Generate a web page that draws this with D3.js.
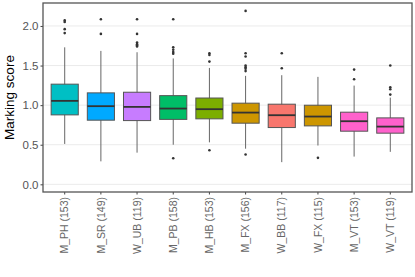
<!DOCTYPE html>
<html>
<head>
<meta charset="utf-8">
<script src="https://cdn.jsdelivr.net/npm/d3@7"></script>
<style>
  body { margin: 0; background: #fff; }
  svg { display: block; font-family: "Liberation Sans", Arial, sans-serif; }
</style>
</head>
<body>
<div id="chart"></div>
<script>
// box plot summaries
const groups = ["M_PH (153)", "M_SR (149)", "W_UB (119)", "M_PB (158)", "M_HB (153)",
                "M_FX (156)", "W_BB (117)", "W_FX (115)", "M_VT (153)", "W_VT (119)"];
const fills = ["#00BFC4", "#00A9FF", "#C77CFF", "#00BE67", "#7CAE00",
               "#CD9600", "#F8766D", "#CD9600", "#FF61CC", "#FF61CC"];
const lowWhisker = [0.51, 0.29, 0.40, 0.50, 0.53, 0.45, 0.28, 0.49, 0.35, 0.41];
const q1 = [0.877, 0.81, 0.805, 0.82, 0.827, 0.772, 0.717, 0.738, 0.671, 0.646];
const medians = [1.054, 0.987, 0.978, 0.957, 0.949, 0.906, 0.873, 0.856, 0.797, 0.729];
const q3 = [1.265, 1.155, 1.163, 1.12, 1.09, 1.025, 1.012, 0.999, 0.911, 0.839];
const highWhisker = [1.73, 1.685, 1.668, 1.59, 1.47, 1.37, 1.378, 1.357, 1.247, 1.095];
const outliers = [
  [2.07, 2.05, 1.96, 1.91],
  [2.085, 1.90],
  [2.085, 1.90, 1.79, 1.77, 1.755, 1.74],
  [2.085, 1.73, 1.70, 1.67, 1.65, 0.33],
  [1.655, 1.634, 1.55, 0.43],
  [2.19, 1.655, 1.615, 1.50, 1.48, 1.46, 1.43, 0.376],
  [1.655, 1.466],
  [0.334],
  [1.449, 1.327],
  [1.50, 1.226, 1.20, 1.133]
];
const yTicks = [0.0, 0.5, 1.0, 1.5, 2.0];

const margin = {top: 3, right: 3, bottom: 85, left: 43},
  width = 415 - margin.left - margin.right,
  height = 277 - margin.top - margin.bottom;

const svg = d3.select("#chart")
  .append("svg")
  .attr("width", width + margin.left + margin.right)
  .attr("height", height + margin.top + margin.bottom)
  .append("g")
  .attr("transform", "translate(" + margin.left + "," + margin.top + ")");

const x = d3.scaleBand()
  .domain(groups)
  .range([0, width])
  .paddingOuter(0.1)
  .paddingInner(0);

const y = d3.scaleLinear()
  .domain([-0.097, 2.29])
  .range([height, 0]);

// grid lines
svg.append("g")
  .selectAll("line")
  .data(yTicks)
  .join("line")
  .attr("x1", 0).attr("x2", width)
  .attr("y1", d => y(d)).attr("y2", d => y(d))
  .attr("stroke", "#EBEBEB")
  .attr("stroke-width", 1);

// axes
const yAxis = svg.append("g")
  .call(d3.axisLeft(y).tickValues(yTicks).tickFormat(d3.format(".1f")).tickSize(2.5).tickPadding(2));
yAxis.select(".domain").remove();
yAxis.selectAll("line").attr("stroke", "#444");
yAxis.selectAll("text").attr("fill", "#555").style("font-size", "11.5px");

const xAxis = svg.append("g")
  .attr("transform", "translate(0," + height + ")")
  .call(d3.axisBottom(x).tickSize(2.5).tickPadding(3));
xAxis.select(".domain").remove();
xAxis.selectAll("line").attr("stroke", "#444");
xAxis.selectAll("text")
  .attr("fill", "#666")
  .style("font-size", "10.5px")
  .attr("text-anchor", "end")
  .attr("dy", "0.35em")
  .attr("transform", "rotate(-90)")
  .attr("x", -5)
  .attr("y", 0);

// boxes
const bw = x.bandwidth() * 0.75;
const boxes = svg.append("g")
  .selectAll("g")
  .data(groups)
  .join("g")
  .attr("transform", d => "translate(" + (x(d) + x.bandwidth() / 2) + ",0)");

boxes.append("line")
  .attr("y1", (d, i) => y(lowWhisker[i]))
  .attr("y2", (d, i) => y(highWhisker[i]))
  .attr("stroke", "#666")
  .attr("stroke-width", 1);

boxes.append("rect")
  .attr("x", -bw / 2)
  .attr("width", bw)
  .attr("y", (d, i) => y(q3[i]))
  .attr("height", (d, i) => y(q1[i]) - y(q3[i]))
  .attr("fill", (d, i) => fills[i])
  .attr("stroke", "#555")
  .attr("stroke-width", 1);

boxes.append("line")
  .attr("x1", -bw / 2).attr("x2", bw / 2)
  .attr("y1", (d, i) => y(medians[i]))
  .attr("y2", (d, i) => y(medians[i]))
  .attr("stroke", "#333")
  .attr("stroke-width", 1.8);

boxes.each(function(d, i) {
  d3.select(this).selectAll("circle")
    .data(outliers[i])
    .join("circle")
    .attr("cx", 0)
    .attr("cy", v => y(v))
    .attr("r", 1.3)
    .attr("fill", "#333");
});

// panel border
svg.append("rect")
  .attr("width", width).attr("height", height)
  .attr("fill", "none")
  .attr("stroke", "#555")
  .attr("stroke-width", 1.3);

// y title
svg.append("text")
  .attr("transform", "rotate(-90)")
  .attr("x", -height / 2)
  .attr("y", -29)
  .attr("text-anchor", "middle")
  .style("font-size", "13.5px")
  .attr("fill", "#000")
  .text("Marking score");
</script>
</body>
</html>
